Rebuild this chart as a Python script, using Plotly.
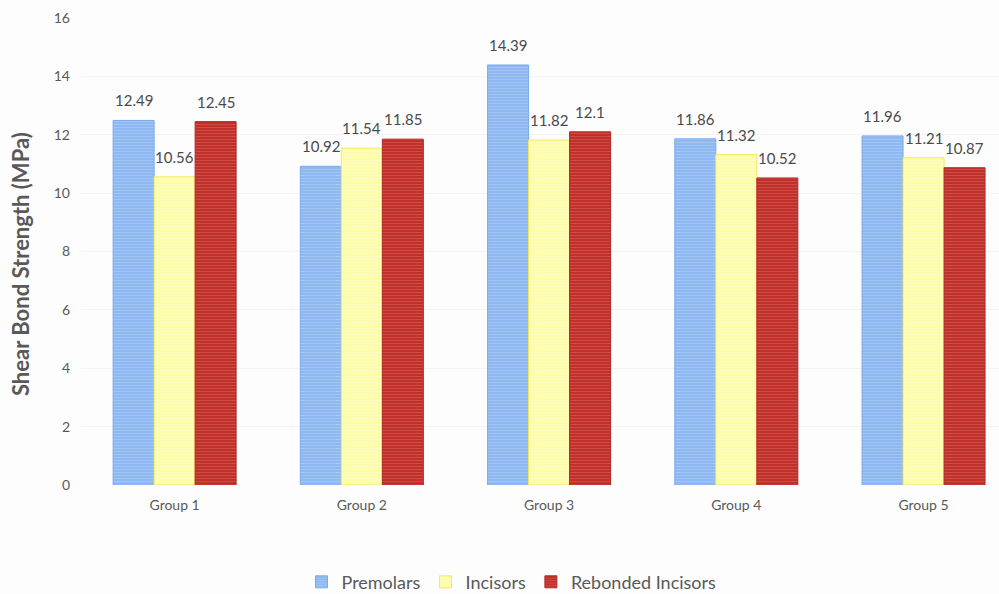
import plotly.graph_objects as go

groups = ["Group 1", "Group 2", "Group 3", "Group 4", "Group 5"]
premolars = [12.49, 10.92, 14.39, 11.86, 11.96]
incisors = [10.56, 11.54, 11.82, 11.32, 11.21]
rebonded = [12.45, 11.85, 12.1, 10.52, 10.87]
series_names = ["Premolars", "Incisors", "Rebonded Incisors"]
y_title = "Shear Bond Strength (MPa)"

styles = [
    dict(bg="#8db8f2", fg="#b9d4f8", line="#7aa9ea"),
    dict(bg="#fdfcaa", fg="#fefed0", line="#f3ea5c"),
    dict(bg="#c0302b", fg="#dd6a62", line="#b02a25"),
]

BAR_PX = 41  # approximate on-screen width of one bar (style only)

fig = go.Figure()
all_series = [premolars, incisors, rebonded]
for i, (name, vals, st) in enumerate(zip(series_names, all_series, styles)):
    fig.add_trace(go.Bar(
        x=groups, y=vals, name=name,
        marker=dict(color=st["bg"],
                    line=dict(color=st["line"], width=1),
                    pattern=dict(shape="-", fgcolor=st["fg"], bgcolor=st["bg"],
                                 size=3, solidity=0.35, fillmode="overlay")),
    ))
    for g, v in zip(groups, vals):
        fig.add_annotation(x=g, y=v, text=f"{v:g}", showarrow=False,
                           xshift=(i - 1) * BAR_PX, yshift=9, yanchor="bottom",
                           font=dict(size=15, color="#4a4a4a"))

fig.add_annotation(xref="paper", yref="paper", x=-0.0665, y=0.473,
                   text=f"<b>{y_title}</b>", textangle=-90, showarrow=False,
                   xanchor="center", yanchor="middle",
                   font=dict(size=22, color="#595959"))

fig.update_layout(
    width=999, height=594,
    paper_bgcolor="#fdfdfd", plot_bgcolor="#fdfdfd",
    font=dict(family="Lato, Open Sans, sans-serif", color="#595959"),
    barmode="group", bargap=0.343, bargroupgap=0,
    margin=dict(l=81, r=0, t=18, b=109, autoexpand=False),
    showlegend=True,
    legend=dict(orientation="h", xref="container", x=0.512, xanchor="center",
                yref="container", y=0.02, yanchor="middle",
                font=dict(size=18, color="#595959"), itemwidth=30, traceorder="normal"),
    xaxis=dict(range=[-0.5, 4.403], showline=False, ticks="", ticklabelstandoff=10,
               tickfont=dict(size=14, color="#595959")),
    yaxis=dict(range=[0, 16], dtick=2, showgrid=True, gridcolor="#f3f3f3", zeroline=False,
               tickfont=dict(size=14, color="#595959"), ticklabelstandoff=10),
)

fig.write_html("out.html")
